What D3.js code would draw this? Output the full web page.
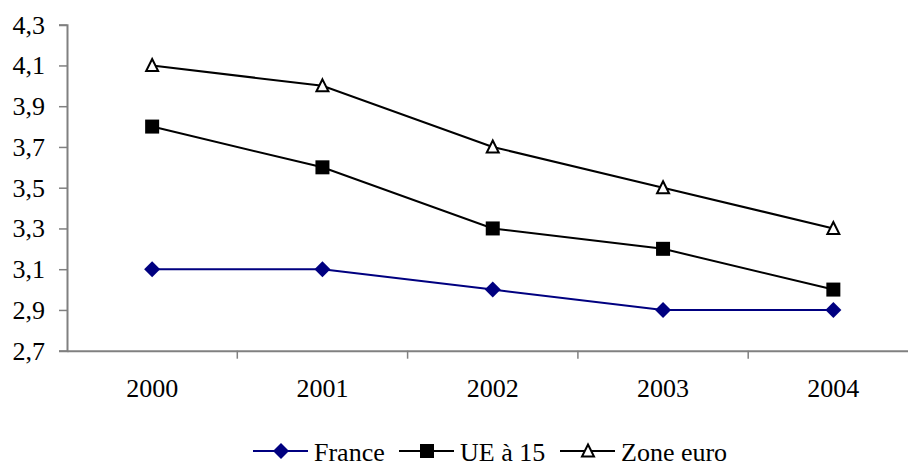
<!DOCTYPE html>
<html><head><meta charset="utf-8">
<script src="https://cdn.jsdelivr.net/npm/d3@7"></script>
<style>body{margin:0;background:#fff}svg{display:block}svg text{font-family:"Liberation Serif","DejaVu Serif",serif}</style>
</head><body><svg id="c" width="908" height="468"></svg>
<script>
const categories = ["2000","2001","2002","2003","2004"];
const france = [3.1, 3.1, 3.0, 2.9, 2.9];
const ue15 = [3.8, 3.6, 3.3, 3.2, 3.0];
const zoneEuro = [4.1, 4.0, 3.7, 3.5, 3.3];
const yTicks = [2.7, 2.9, 3.1, 3.3, 3.5, 3.7, 3.9, 4.1, 4.3];
const seriesNames = ["France", "UE à 15", "Zone euro"];

(function () {
const svg = d3.select("#c");
const fs = 26;
const mLeft = 67, mRight = 918.5, mTop = 24.7, mBottom = 350.7;
const x = d3.scaleBand().domain(categories).range([mLeft, mRight]);
const y = d3.scaleLinear().domain([2.7, 4.3]).range([mBottom, mTop]);
const axisColor = "#808080";

// y axis
const ya = svg.append("g").attr("transform", `translate(${mLeft},0)`)
  .call(d3.axisLeft(y).tickValues(yTicks).tickSize(8).tickPadding(14)
    .tickFormat(d => d3.format(".1f")(d).replace(".", ",")));
ya.attr("font-family", null).attr("font-size", null);
ya.select(".domain").attr("stroke", axisColor).attr("stroke-width", 2);
ya.selectAll(".tick line").attr("stroke", axisColor).attr("stroke-width", 1.5);
ya.selectAll(".tick text").attr("font-size", fs).attr("fill", "#000");

// x axis
const xa = svg.append("g").attr("transform", `translate(0,${mBottom})`)
  .call(d3.axisBottom(x).tickSize(0).tickPadding(28));
xa.attr("font-family", null).attr("font-size", null);
xa.select(".domain").attr("stroke", axisColor).attr("stroke-width", 2);
xa.selectAll(".tick text").attr("font-size", fs).attr("fill", "#000");
xa.selectAll(".cat").data(categories.slice(1)).enter().append("line")
  .attr("x1", d => x(d)).attr("x2", d => x(d)).attr("y1", 0).attr("y2", 8)
  .attr("stroke", axisColor).attr("stroke-width", 1.5);

const cx = d => x(d) + x.bandwidth() / 2;
const line = d3.line().x((d, i) => cx(categories[i])).y(d => y(d));

const series = [
  {name: seriesNames[0], values: france, color: "#000080", sym: "diamond"},
  {name: seriesNames[1], values: ue15, color: "#000000", sym: "square"},
  {name: seriesNames[2], values: zoneEuro, color: "#000000", sym: "triangle"}
];

function marker(g, s, px, py) {
  if (s.sym === "diamond") {
    g.append("path").attr("d", `M${px},${py-8}L${px+8},${py}L${px},${py+8}L${px-8},${py}Z`)
      .attr("fill", s.color);
  } else if (s.sym === "square") {
    g.append("rect").attr("x", px-7).attr("y", py-7).attr("width", 14).attr("height", 14).attr("fill", "#000");
  } else {
    g.append("path").attr("d", `M${px},${py-6.5}L${px+6},${py+5.5}L${px-6},${py+5.5}Z`)
      .attr("fill", "#fff").attr("stroke", "#000").attr("stroke-width", 2);
  }
}

series.forEach(s => {
  svg.append("path").attr("d", line(s.values)).attr("fill", "none")
    .attr("stroke", s.color).attr("stroke-width", 2);
  const g = svg.append("g");
  s.values.forEach((v, i) => marker(g, s, cx(categories[i]), y(v)));
});

// legend
const lg = svg.append("g");
const legendY = 451;
const starts = [253, 399, 560];
series.forEach((s, i) => {
  const x0 = starts[i];
  lg.append("line").attr("x1", x0).attr("x2", x0 + 55).attr("y1", legendY).attr("y2", legendY)
    .attr("stroke", s.color).attr("stroke-width", 2);
  marker(lg, s, x0 + 28, legendY);
  lg.append("text").attr("x", x0 + 61).attr("y", 461)
    .attr("font-size", fs).attr("fill", "#000").text(s.name);
});
})();
</script></body></html>
